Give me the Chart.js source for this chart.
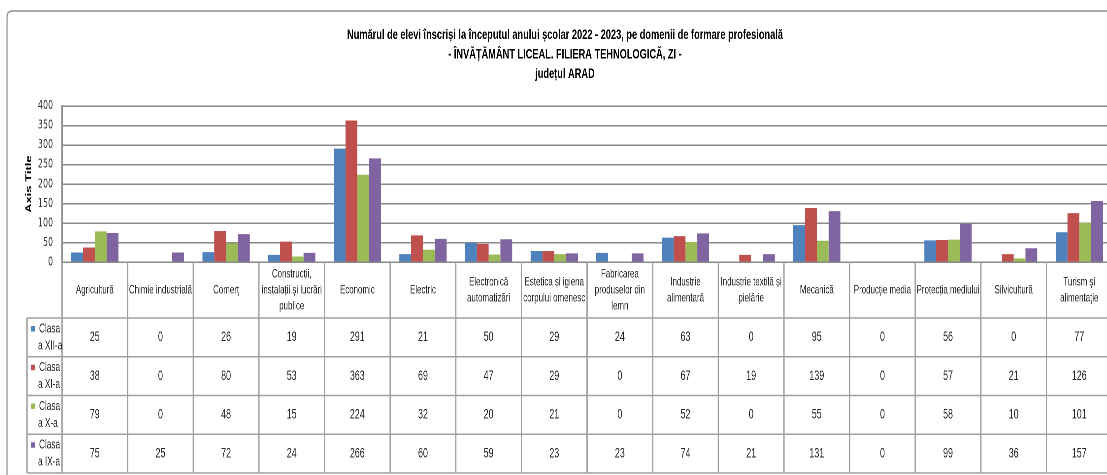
<!DOCTYPE html>
<html>
<head>
<meta charset="utf-8">
<script src="https://cdn.jsdelivr.net/npm/chart.js@4.4.1/dist/chart.umd.min.js"></script>
<style>
  html, body { margin: 0; padding: 0; background: #ffffff; overflow: hidden; width: 1107px; height: 475px; }
  #wrap { position: absolute; left: 0; top: 0; width: 1685px; height: 475px; transform: scaleX(0.66); transform-origin: 0 0; }
</style>
</head>
<body>
<div id="wrap"><canvas id="c" width="1685" height="475"></canvas></div>
<script>
const titleLines = [
  'Numărul de elevi înscriși la începutul anului școlar 2022 - 2023, pe domenii de formare profesională',
  '- ÎNVĂȚĂMÂNT LICEAL. FILIERA TEHNOLOGICĂ, ZI -',
  'județul ARAD'
];
const categories = [
  'Agricultură',
  'Chimie industrială',
  'Comerț',
  ['Construcții,', 'instalații și lucrări', 'publice'],
  'Economic',
  'Electric',
  ['Electronică', 'automatizări'],
  ['Estetica și igiena', 'corpului omenesc'],
  ['Fabricarea', 'produselor din', 'lemn'],
  ['Industrie', 'alimentară'],
  ['Industrie textilă și', 'pielărie'],
  'Mecanică',
  'Producție media',
  'Protecția mediului',
  'Silvicultură',
  ['Turism și', 'alimentație']
];
const seriesNames = ['Clasa a XII-a', 'Clasa a XI-a', 'Clasa a X-a', 'Clasa a IX-a'];
const seriesLegendLines = [['Clasa', 'a XII-a'], ['Clasa', 'a XI-a'], ['Clasa', 'a X-a'], ['Clasa', 'a IX-a']];
const clasaXII = [25, 0, 26, 19, 291, 21, 50, 29, 24, 63, 0, 95, 0, 56, 0, 77];
const clasaXI  = [38, 0, 80, 53, 363, 69, 47, 29, 0, 67, 19, 139, 0, 57, 21, 126];
const clasaX   = [79, 0, 48, 15, 224, 32, 20, 21, 0, 52, 0, 55, 0, 58, 10, 101];
const clasaIX  = [75, 25, 72, 24, 266, 60, 59, 23, 23, 74, 21, 131, 0, 99, 36, 157];
const seriesColors = ['#4F81BD', '#C0504D', '#9BBB59', '#8064A2'];
const yTickValues = [0, 50, 100, 150, 200, 250, 300, 350, 400];
const axisTitle = 'Axis Title';

const SANS = "'Liberation Sans', Arial, sans-serif";
const TICKFONT = "'DejaVu Sans', sans-serif";
const TEXT = '#262626';
const seriesValues = [clasaXII, clasaXI, clasaX, clasaIX];

const tablePlugin = {
  id: 'dataTable',
  beforeDraw(chart) {
    const ctx = chart.ctx;
    ctx.save();
    ctx.strokeStyle = '#8c8c8c';
    const fx = 10.6, fy = 11, rx = 9, ry = 6;
    ctx.beginPath();
    ctx.moveTo(fx, chart.height + 5);
    ctx.lineTo(fx, fy + ry);
    ctx.quadraticCurveTo(fx, fy, fx + rx, fy);
    ctx.lineTo(chart.width + 5, fy);
    ctx.lineWidth = 1.6;
    ctx.stroke();
    ctx.restore();
  },
  afterDraw(chart) {
    const ctx = chart.ctx;
    const area = chart.chartArea;
    const xs = chart.scales.x;
    const n = categories.length;
    const colW = (area.right - area.left) / n;
    const top = area.bottom;
    const headerBottom = top + 55.7;
    const rowH = 38.75;
    const nRows = chart.data.datasets.length;
    const tableBottom = headerBottom + rowH * nRows;
    const legendLeft = 40.9;
    ctx.save();
    ctx.strokeStyle = '#a0a0a0';
    ctx.lineWidth = 1.4;
    for (let r = 0; r <= nRows; r++) {
      const y = headerBottom + r * rowH;
      ctx.beginPath();
      ctx.moveTo(legendLeft, y);
      ctx.lineTo(area.right + 2, y);
      ctx.stroke();
    }
    ctx.lineWidth = 2;
    for (let i = 0; i <= n; i++) {
      const x = i < n ? xs.getPixelForValue(i) - colW / 2 : xs.getPixelForValue(n - 1) + colW / 2;
      ctx.beginPath();
      ctx.moveTo(x, top);
      ctx.lineTo(x, tableBottom);
      ctx.stroke();
    }
    ctx.beginPath();
    ctx.moveTo(legendLeft, headerBottom);
    ctx.lineTo(legendLeft, tableBottom);
    ctx.stroke();

    // header labels
    ctx.fillStyle = TEXT;
    ctx.textAlign = 'center';
    ctx.textBaseline = 'middle';
    ctx.font = '12px ' + SANS;
    const headerMid = (top + headerBottom) / 2;
    for (let i = 0; i < n; i++) {
      const lines = Array.isArray(categories[i]) ? categories[i] : [categories[i]];
      const cx = xs.getPixelForValue(i);
      const lh = 16;
      const y0 = headerMid - (lines.length - 1) * lh / 2;
      lines.forEach((ln, k) => ctx.fillText(ln, cx, y0 + k * lh));
    }
    // values
    ctx.font = '13.5px ' + SANS;
    for (let r = 0; r < nRows; r++) {
      const data = chart.data.datasets[r].data;
      const cy = headerBottom + r * rowH + rowH / 2;
      for (let i = 0; i < n; i++) {
        ctx.fillText(String(data[i]), xs.getPixelForValue(i), cy);
      }
    }
    // legend keys
    ctx.textAlign = 'left';
    ctx.font = '12.5px ' + SANS;
    for (let r = 0; r < nRows; r++) {
      const rowTop = headerBottom + r * rowH;
      ctx.fillStyle = chart.data.datasets[r].backgroundColor;
      ctx.fillRect(47, rowTop + 8, 6.5, 5.5);
      ctx.fillStyle = TEXT;
      const lines = seriesLegendLines[r];
      ctx.fillText(lines[0], 59.1, rowTop + 11);
      ctx.fillText(lines[1], 57.6, rowTop + 28);
    }
    ctx.restore();
  }
};

new Chart(document.getElementById('c'), {
  type: 'bar',
  data: {
    labels: categories,
    datasets: seriesNames.map((name, i) => ({
      label: name,
      data: seriesValues[i],
      backgroundColor: seriesColors[i],
      borderWidth: 0,
      categoryPercentage: 0.72,
      barPercentage: 1.0
    }))
  },
  options: {
    responsive: false,
    devicePixelRatio: 2,
    animation: false,
    layout: { padding: { left: 27, right: 0, top: 0, bottom: 0 } },
    plugins: {
      legend: { display: false },
      tooltip: { enabled: false },
      title: {
        display: true,
        text: titleLines,
        color: '#000000',
        font: { family: SANS, size: 14, weight: 'bold', lineHeight: 1.393 },
        padding: { top: 25.25, bottom: 22.25 }
      }
    },
    scales: {
      x: {
        ticks: { display: false },
        grid: { display: false },
        border: { display: true, color: '#8a8a8a', width: 1.5 },
        afterFit(scale) { scale.height = 212.7; }
      },
      y: {
        min: 0,
        max: 400,
        afterBuildTicks(scale) { scale.ticks = yTickValues.map(v => ({ value: v })); },
        ticks: {
          color: '#333333',
          padding: 13.6,
          font: { family: TICKFONT, size: 12 }
        },
        grid: { color: '#8a8a8a', lineWidth: 1.5, drawTicks: false },
        border: { display: true, color: '#8a8a8a', width: 2.2 },
        title: {
          display: true,
          text: axisTitle,
          color: '#000000',
          font: { family: SANS, size: 13, weight: 'bold' },
          padding: { top: 9.1, bottom: 0 }
        },
        afterFit(scale) { scale.width = 66.94; }
      }
    }
  },
  plugins: [tablePlugin]
});
</script>
</body>
</html>
